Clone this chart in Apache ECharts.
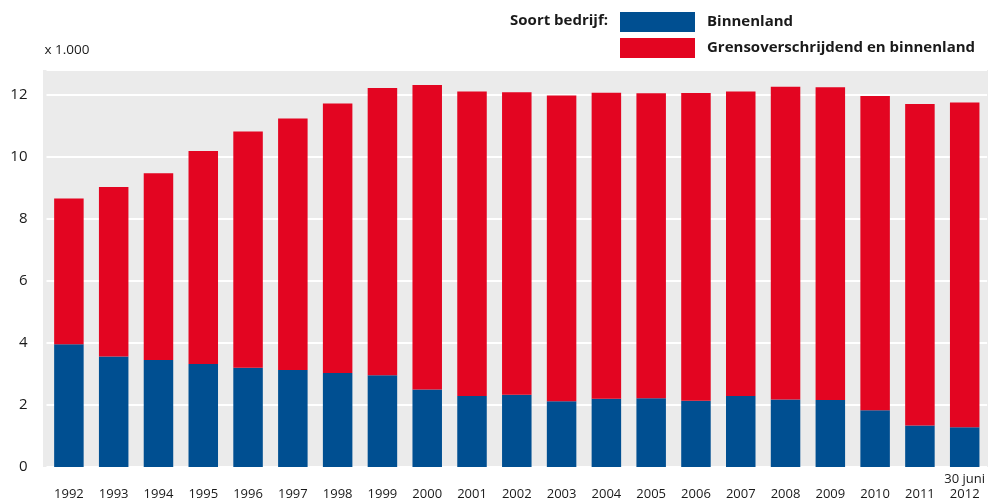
<!DOCTYPE html>
<html>
<head>
<meta charset="utf-8">
<script src="https://cdn.jsdelivr.net/npm/echarts@6/dist/echarts.min.js"></script>
<style>
  html, body { margin: 0; padding: 0; background: #fff; }
</style>
</head>
<body>
<div id="main" style="width: 988px; height: 502px"></div>
<script>
const years = ['1992', '1993', '1994', '1995', '1996', '1997', '1998', '1999', '2000', '2001',
  '2002', '2003', '2004', '2005', '2006', '2007', '2008', '2009', '2010', '2011', '30 juni\n2012']
// x 1.000
const binnenland = [3.96, 3.56, 3.45, 3.32, 3.20, 3.13, 3.03, 2.96, 2.50, 2.29,
  2.33, 2.12, 2.20, 2.22, 2.14, 2.29, 2.18, 2.16, 1.83, 1.34, 1.28]
const totaal = [8.66, 9.03, 9.47, 10.19, 10.82, 11.24, 11.72, 12.22, 12.32, 12.11,
  12.08, 11.98, 12.07, 12.05, 12.06, 12.11, 12.26, 12.24, 11.96, 11.70, 11.75]
const grens = totaal.map((t, i) => +(t - binnenland[i]).toFixed(2))
const yTicks = { min: 0, max: 12.8, interval: 2 }

const font = "'Open Sans', sans-serif"
const chart = echarts.init(document.getElementById('main'))
const option = {
  animation: false,
  textStyle: { fontFamily: font },
  graphic: [
    // grijze achtergrond van het plotvlak
    {
      type: 'rect',
      z: -10,
      silent: true,
      shape: { x: 43, y: 70, width: 945, height: 397 },
      style: { fill: '#ebebeb' }
    },
    {
      type: 'text',
      x: 608,
      y: 21,
      style: {
        text: 'Soort bedrijf:',
        align: 'right',
        verticalAlign: 'middle',
        font: "bold 15px 'Open Sans', sans-serif",
        fill: '#1a1a1a'
      }
    }
  ],
  legend: {
    orient: 'vertical',
    left: 620,
    top: 12,
    padding: 0,
    itemWidth: 75,
    itemHeight: 20,
    itemGap: 6,
    icon: 'rect',
    selectedMode: false,
    textStyle: {
      fontFamily: font,
      fontSize: 15,
      fontWeight: 'bold',
      color: '#1a1a1a',
      padding: [0, 0, 0, 7]
    },
    data: ['Binnenland', 'Grensoverschrijdend en binnenland']
  },
  grid: {
    left: 46.5,
    width: 944,
    top: 70,
    bottom: 35,
    containLabel: false
  },
  xAxis: {
    type: 'category',
    data: years,
    axisLine: { show: false },
    axisTick: { show: false },
    axisLabel: {
      interval: 0,
      margin: 35,
      verticalAlign: 'bottom',
      lineHeight: 15,
      fontSize: 13,
      color: '#1a1a1a',
      fontFamily: font
    }
  },
  yAxis: {
    type: 'value',
    min: yTicks.min,
    max: yTicks.max,
    interval: yTicks.interval,
    name: 'x 1.000',
    nameLocation: 'end',
    nameGap: 20,
    nameTextStyle: {
      align: 'left',
      verticalAlign: 'middle',
      fontSize: 13.5,
      color: '#1a1a1a',
      fontFamily: font,
      padding: [0, 0, 0, -2]
    },
    axisLine: { show: false },
    axisTick: { show: false },
    axisLabel: {
      margin: 19,
      fontSize: 15,
      color: '#1a1a1a',
      showMaxLabel: false,
      fontFamily: font
    },
    splitLine: {
      lineStyle: { color: '#ffffff', width: 2 }
    }
  },
  series: [
    {
      name: 'Binnenland',
      type: 'bar',
      stack: 'totaal',
      barWidth: 29.5,
      itemStyle: { color: '#004f91' },
      data: binnenland
    },
    {
      name: 'Grensoverschrijdend en binnenland',
      type: 'bar',
      stack: 'totaal',
      barWidth: 29.5,
      itemStyle: { color: '#e30521' },
      data: grens
    }
  ]
}

option && chart.setOption(option)
</script>
</body>
</html>
